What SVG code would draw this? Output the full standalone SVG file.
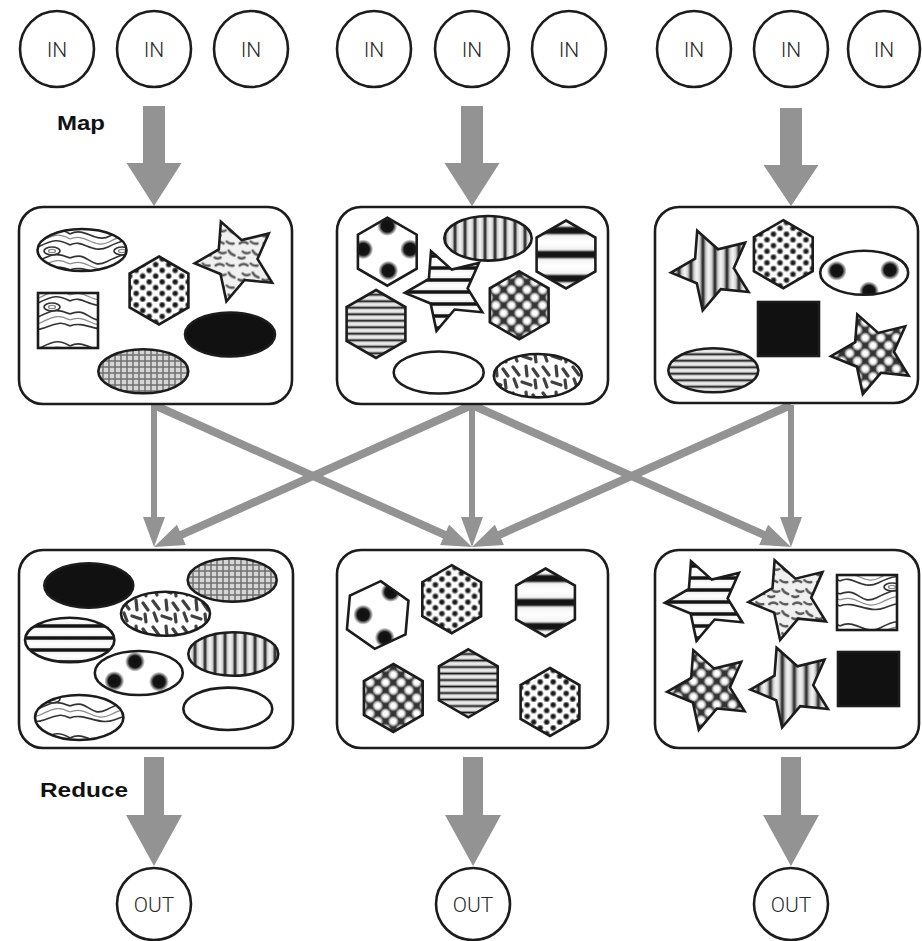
<svg xmlns="http://www.w3.org/2000/svg" xmlns:xlink="http://www.w3.org/1999/xlink" width="922" height="941" viewBox="0 0 922 941">
  <style>
    .ring { fill:#fff; stroke:#1c1c1c; stroke-width:2.6; }
    .box { fill:#fff; stroke:#1c1c1c; stroke-width:2.6; }
    .sh { stroke:#1c1c1c; stroke-width:2.6; stroke-linejoin:miter; }
    .ol { fill:none; stroke:#1c1c1c; stroke-width:2.6; }
    .big { fill:#939393; }
    .vline { fill:none; stroke:#939393; stroke-width:6; }
    .dline { fill:none; stroke:#939393; stroke-width:8; }
    .head { fill:#939393; }
    .io { font-family:Roboto, "Liberation Sans", sans-serif; font-weight:300; font-size:21px; fill:#2a2a2a; text-anchor:middle; }
    .stage { font-family:"Liberation Sans", Arial, sans-serif; font-weight:bold; font-size:20px; fill:#111; }
  </style>
  <defs>
    <!-- basic shapes, centred on 0,0 -->
    <path id="hex" d="M0,-34 L29.4,-17 L29.4,17 L0,34 L-29.4,17 L-29.4,-17 Z"/>
    <path id="star" d="M-41.9,2.9 L-17.8,-11.1 L-15.7,-38.9 L5.1,-20.4 L32.2,-27 L20.9,-1.5 L35.6,22.3 L7.9,19.5 L-10.2,40.8 L-16.1,13.5 Z"/>
    <clipPath id="cHex"><use xlink:href="#hex"/></clipPath>
    <clipPath id="cOval"><ellipse cx="0" cy="0" rx="44" ry="22"/></clipPath>

    <!-- soft blobs and dots -->
    <radialGradient id="gDot">
      <stop offset="0" stop-color="#111"/>
      <stop offset="0.45" stop-color="#222"/>
      <stop offset="1" stop-color="#333" stop-opacity="0"/>
    </radialGradient>
    <radialGradient id="gBlob">
      <stop offset="0" stop-color="#0e0e0e"/>
      <stop offset="0.6" stop-color="#151515"/>
      <stop offset="1" stop-color="#222" stop-opacity="0"/>
    </radialGradient>
    <radialGradient id="gCell">
      <stop offset="0.45" stop-color="#fff"/>
      <stop offset="0.8" stop-color="#9a9a9a"/>
      <stop offset="1" stop-color="#333"/>
    </radialGradient>
    <linearGradient id="gLineH" x1="0" y1="0" x2="0" y2="1">
      <stop offset="0" stop-color="#f4f4f4"/>
      <stop offset="0.25" stop-color="#cfcfcf"/>
      <stop offset="0.5" stop-color="#151515"/>
      <stop offset="0.75" stop-color="#cfcfcf"/>
      <stop offset="1" stop-color="#f4f4f4"/>
    </linearGradient>
    <linearGradient id="gLineV" x1="0" y1="0" x2="1" y2="0">
      <stop offset="0" stop-color="#f6f6f6"/>
      <stop offset="0.25" stop-color="#cfcfcf"/>
      <stop offset="0.5" stop-color="#151515"/>
      <stop offset="0.75" stop-color="#cfcfcf"/>
      <stop offset="1" stop-color="#f6f6f6"/>
    </linearGradient>
    <linearGradient id="gBand" x1="0" y1="0" x2="0" y2="1">
      <stop offset="0" stop-color="#fff"/>
      <stop offset="0.3" stop-color="#f2f2f2"/>
      <stop offset="0.4" stop-color="#141414"/>
      <stop offset="0.6" stop-color="#141414"/>
      <stop offset="0.7" stop-color="#f2f2f2"/>
      <stop offset="1" stop-color="#fff"/>
    </linearGradient>

    <!-- fills -->
    <pattern id="pDots" patternUnits="userSpaceOnUse" width="13" height="11.5">
      <rect width="13" height="11.5" fill="#fff"/>
      <circle cx="3.2" cy="2.9" r="3.8" fill="url(#gDot)"/>
      <circle cx="9.7" cy="8.6" r="3.8" fill="url(#gDot)"/>
    </pattern>
    <pattern id="pHThin" patternUnits="userSpaceOnUse" width="10" height="6.5">
      <rect width="10" height="6.5" fill="url(#gLineH)"/>
    </pattern>
    <pattern id="pHMed" patternUnits="userSpaceOnUse" width="10" height="12" y="-4">
      <rect width="10" height="12" fill="url(#gBand)"/>
    </pattern>
    <pattern id="pHBig" patternUnits="userSpaceOnUse" width="10" height="24" y="-12">
      <rect width="10" height="24" fill="url(#gBand)"/>
    </pattern>
    <pattern id="pV" patternUnits="userSpaceOnUse" width="10" height="10">
      <rect width="10" height="10" fill="url(#gLineV)"/>
    </pattern>
    <pattern id="pVWide" patternUnits="userSpaceOnUse" width="12" height="10" x="-4">
      <rect width="12" height="10" fill="url(#gLineV)"/>
    </pattern>
    <pattern id="pGrid" patternUnits="userSpaceOnUse" width="6" height="6">
      <rect width="6" height="6" fill="#d6d6d6"/>
      <rect width="6" height="2" fill="#6e6e6e" opacity="0.75"/>
      <rect width="2" height="6" fill="#6e6e6e" opacity="0.75"/>
    </pattern>
    <pattern id="pLattice" patternUnits="userSpaceOnUse" width="11" height="11" patternTransform="rotate(45)">
      <rect width="11" height="11" fill="url(#gCell)"/>
    </pattern>
    <pattern id="pConf" patternUnits="userSpaceOnUse" width="30" height="26">
      <rect width="30" height="26" fill="#fff"/>
      <g stroke="#1e1e1e" stroke-width="3.2" stroke-linecap="round" fill="none" opacity="0.85">
        <path d="M3,3 L9,11"/>
        <path d="M16,2 L17,12"/>
        <path d="M23,5 L28,12"/>
        <path d="M4,15 L7,23"/>
        <path d="M12,18 L21,21"/>
        <path d="M25,16 L26,24"/>
      </g>
    </pattern>
    <pattern id="pSwirl" patternUnits="userSpaceOnUse" width="24" height="22">
      <rect width="24" height="22" fill="#f0f0f0"/>
      <g stroke="#555" stroke-width="2.4" stroke-linecap="round" fill="none">
        <path d="M3,5 q4,-3 8,0"/>
        <path d="M14,3 q3,3 7,2"/>
        <path d="M6,13 q3,3 7,1"/>
        <path d="M16,12 q2,4 6,5"/>
        <path d="M2,19 q3,2 6,0"/>
      </g>
    </pattern>
    <pattern id="pWood" patternUnits="userSpaceOnUse" width="70" height="56">
      <rect width="70" height="56" fill="#fff"/>
      <g fill="none" stroke="#333" stroke-width="1.7">
        <path d="M0,10 C15,2 25,20 40,12 S60,4 70,10"/>
        <path d="M0,21 C12,14 22,31 38,23 S58,15 70,21"/>
        <path d="M0,34 C18,26 20,46 36,38 S56,28 70,34"/>
        <path d="M0,46 C14,40 28,54 44,48 S62,42 70,46"/>
        <ellipse cx="52" cy="27" rx="8" ry="4"/>
      </g>
      <g fill="none" stroke="#8a8a8a" stroke-width="1.3">
        <path d="M0,15 C15,8 24,26 39,18 S59,9 70,15"/>
        <path d="M0,40 C16,33 24,51 40,43 S60,35 70,40"/>
        <ellipse cx="52" cy="27" rx="3.5" ry="1.6"/>
      </g>
    </pattern>
  </defs>

  <!-- arrows: map, shuffle and reduce -->
  <g id="connectors">
    <polygon class="big" points="143,106 165,106 165,163 181.5,163 154,206 126.5,163 143,163"/>
    <polygon class="big" points="461,106 483,106 483,163 499.5,163 472,206 444.5,163 461,163"/>
    <polygon class="big" points="780,108 802,108 802,165 818.5,165 791,206 763.5,165 780,165"/>

    <line class="vline" x1="154" y1="405" x2="154" y2="519"/>
    <polygon class="head" points="154,547 143,517 165,517"/>
    <line class="vline" x1="472" y1="405" x2="472" y2="519"/>
    <polygon class="head" points="472,547 461,517 483,517"/>
    <line class="vline" x1="791" y1="405" x2="791" y2="519"/>
    <polygon class="head" points="791,547 780,517 802,517"/>

    <line class="dline" x1="154" y1="405" x2="448.2" y2="536.4"/>
    <polygon class="head" points="472,547 440.1,544.9 449.1,524.8"/>
    <line class="dline" x1="472" y1="405" x2="177.8" y2="536.4"/>
    <polygon class="head" points="154,547 185.9,544.9 176.9,524.8"/>
    <line class="dline" x1="472" y1="405" x2="767.2" y2="536.4"/>
    <polygon class="head" points="791,547 759.1,544.9 768.1,524.8"/>
    <line class="dline" x1="791" y1="405" x2="495.8" y2="536.4"/>
    <polygon class="head" points="472,547 503.9,544.9 494.9,524.8"/>

    <polygon class="big" points="144,757 164,757 164,815 182,815 154,866 126,815 144,815"/>
    <polygon class="big" points="463,757 483,757 483,815 501,815 473,866 445,815 463,815"/>
    <polygon class="big" points="781,757 801,757 801,815 819,815 791,866 763,815 781,815"/>
  </g>

  <!-- inputs -->
  <g id="in1"><ellipse class="ring" cx="57" cy="49" rx="37" ry="38"/><text class="io" x="57" y="56.5">IN</text></g>
  <g id="in2"><ellipse class="ring" cx="154" cy="49" rx="37" ry="38"/><text class="io" x="154" y="56.5">IN</text></g>
  <g id="in3"><ellipse class="ring" cx="251" cy="49" rx="37" ry="38"/><text class="io" x="251" y="56.5">IN</text></g>
  <g id="in4"><ellipse class="ring" cx="374" cy="49" rx="37" ry="38"/><text class="io" x="374" y="56.5">IN</text></g>
  <g id="in5"><ellipse class="ring" cx="472" cy="49" rx="37" ry="38"/><text class="io" x="472" y="56.5">IN</text></g>
  <g id="in6"><ellipse class="ring" cx="569" cy="49" rx="37" ry="38"/><text class="io" x="569" y="56.5">IN</text></g>
  <g id="in7"><ellipse class="ring" cx="694" cy="49" rx="37" ry="38"/><text class="io" x="694" y="56.5">IN</text></g>
  <g id="in8"><ellipse class="ring" cx="791" cy="49" rx="37" ry="38"/><text class="io" x="791" y="56.5">IN</text></g>
  <g id="in9"><ellipse class="ring" cx="884" cy="49" rx="36" ry="38"/><text class="io" x="884" y="56.5">IN</text></g>

  <!-- stage labels -->
  <g id="labels">
    <text class="stage" x="57" y="130" textLength="48" lengthAdjust="spacingAndGlyphs">Map</text>
    <text class="stage" x="40" y="797" textLength="88" lengthAdjust="spacingAndGlyphs">Reduce</text>
  </g>

  <!-- map outputs -->
  <g id="map1">
    <rect class="box" x="19" y="207" width="273" height="197" rx="24"/>
    <ellipse class="sh" cx="82" cy="250" rx="44.5" ry="21" fill="url(#pWood)"/>
    <use class="sh" xlink:href="#hex" transform="translate(159,290.5)" fill="url(#pDots)"/>
    <use class="sh" xlink:href="#star" transform="translate(236.6,260.5)" fill="url(#pSwirl)"/>
    <rect class="sh" x="38" y="293" width="60" height="55" fill="url(#pWood)"/>
    <ellipse class="sh" cx="230" cy="334.5" rx="45" ry="22" fill="#111"/>
    <ellipse class="sh" cx="143.3" cy="371.3" rx="45" ry="22" fill="url(#pGrid)"/>
  </g>

  <g id="map2">
    <rect class="box" x="337" y="207" width="271" height="197" rx="24"/>
    <g transform="translate(387.3,251.7)">
      <use xlink:href="#hex" fill="#fff"/>
      <g clip-path="url(#cHex)">
        <circle cx="0" cy="-25.7" r="10" fill="url(#gBlob)"/>
        <circle cx="22.7" cy="-2.4" r="10" fill="url(#gBlob)"/>
        <circle cx="1" cy="19" r="10" fill="url(#gBlob)"/>
        <circle cx="-24" cy="-2.4" r="10" fill="url(#gBlob)"/>
      </g>
      <use class="ol" xlink:href="#hex"/>
    </g>
    <ellipse class="sh" cx="488" cy="238.3" rx="43.7" ry="22.3" fill="url(#pV)"/>
    <use class="sh" xlink:href="#hex" transform="translate(566,254.5)" fill="url(#pHBig)"/>
    <use class="sh" xlink:href="#star" transform="translate(446.7,290)" fill="url(#pHMed)"/>
    <use class="sh" xlink:href="#hex" transform="translate(376,324)" fill="url(#pHThin)"/>
    <use class="sh" xlink:href="#hex" transform="translate(519.2,305.3)" fill="url(#pLattice)"/>
    <ellipse class="sh" cx="438.7" cy="372.5" rx="45" ry="21" fill="#fff"/>
    <ellipse class="sh" cx="537.8" cy="375.7" rx="44" ry="21.7" fill="url(#pConf)"/>
  </g>

  <g id="map3">
    <rect class="box" x="655" y="207" width="263" height="196" rx="24"/>
    <use class="sh" xlink:href="#star" transform="translate(712.9,269.7)" fill="url(#pVWide)"/>
    <use class="sh" xlink:href="#hex" transform="translate(783.3,254.2)" fill="url(#pDots)"/>
    <g transform="translate(864.2,272.8)">
      <ellipse cx="0" cy="0" rx="44" ry="22" fill="#fff"/>
      <g clip-path="url(#cOval)">
        <circle cx="-27.5" cy="-2" r="10" fill="url(#gBlob)"/>
        <circle cx="25.8" cy="-2.8" r="10" fill="url(#gBlob)"/>
        <circle cx="4.8" cy="18.5" r="10" fill="url(#gBlob)"/>
      </g>
      <ellipse class="ol" cx="0" cy="0" rx="44" ry="22"/>
    </g>
    <rect class="sh" x="758" y="302" width="61" height="54" fill="#111"/>
    <ellipse class="sh" cx="713.3" cy="370.3" rx="45" ry="22" fill="url(#pHThin)"/>
    <use class="sh" xlink:href="#star" transform="translate(873,353.3)" fill="url(#pLattice)"/>
  </g>

  <!-- reduce inputs -->
  <g id="red1">
    <rect class="box" x="19" y="550" width="274" height="198" rx="24"/>
    <ellipse class="sh" cx="88.8" cy="585.5" rx="44.5" ry="22.2" fill="#111"/>
    <ellipse class="sh" cx="232.2" cy="580" rx="44.5" ry="21.7" fill="url(#pGrid)"/>
    <ellipse class="sh" cx="165.5" cy="613.7" rx="44.5" ry="22" fill="url(#pConf)"/>
    <ellipse class="sh" cx="69.7" cy="640" rx="44.7" ry="22.3" fill="url(#pHMed)"/>
    <ellipse class="sh" cx="233.3" cy="654" rx="45" ry="21.7" fill="url(#pV)"/>
    <g transform="translate(138.8,673)">
      <ellipse cx="0" cy="0" rx="44" ry="22" fill="#fff"/>
      <g clip-path="url(#cOval)">
        <circle cx="-3.8" cy="-11.3" r="10" fill="url(#gBlob)"/>
        <circle cx="-24.5" cy="8" r="10" fill="url(#gBlob)"/>
        <circle cx="20.2" cy="8.7" r="10" fill="url(#gBlob)"/>
      </g>
      <ellipse class="ol" cx="0" cy="0" rx="44" ry="22"/>
    </g>
    <ellipse class="sh" cx="79.2" cy="717.5" rx="44.2" ry="22.5" fill="url(#pWood)"/>
    <ellipse class="sh" cx="227.8" cy="708.8" rx="44.5" ry="21.2" fill="#fff"/>
  </g>

  <g id="red2">
    <rect class="box" x="337" y="550" width="271" height="198" rx="24"/>
    <g transform="translate(377.7,615) rotate(5)">
      <use xlink:href="#hex" fill="#fff"/>
      <g clip-path="url(#cHex)">
        <circle cx="11" cy="-24" r="10" fill="url(#gBlob)"/>
        <circle cx="-14.5" cy="1" r="10" fill="url(#gBlob)"/>
        <circle cx="9" cy="22" r="10" fill="url(#gBlob)"/>
      </g>
      <use class="ol" xlink:href="#hex"/>
    </g>
    <use class="sh" xlink:href="#hex" transform="translate(451.7,599.2)" fill="url(#pDots)"/>
    <use class="sh" xlink:href="#hex" transform="translate(545.5,602.5)" fill="url(#pHBig)"/>
    <use class="sh" xlink:href="#hex" transform="translate(393.3,698)" fill="url(#pLattice)"/>
    <use class="sh" xlink:href="#hex" transform="translate(468.3,683.3)" fill="url(#pHThin)"/>
    <use class="sh" xlink:href="#hex" transform="translate(550,702)" fill="url(#pDots)"/>
  </g>

  <g id="red3">
    <rect class="box" x="655" y="550" width="264" height="198" rx="24"/>
    <use class="sh" xlink:href="#star" transform="translate(706.7,600)" fill="url(#pHMed)"/>
    <use class="sh" xlink:href="#star" transform="translate(790.3,599.1)" fill="url(#pSwirl)"/>
    <rect class="sh" x="837" y="575" width="60" height="55" fill="url(#pWood)"/>
    <use class="sh" xlink:href="#star" transform="translate(709,689)" fill="url(#pLattice)"/>
    <use class="sh" xlink:href="#star" transform="translate(792.3,686.7)" fill="url(#pVWide)"/>
    <rect class="sh" x="838" y="652" width="61" height="54" fill="#111"/>
  </g>

  <!-- outputs -->
  <g id="out1"><ellipse class="ring" cx="154" cy="904" rx="37" ry="36"/><text class="io" x="154" y="911.5">OUT</text></g>
  <g id="out2"><ellipse class="ring" cx="473" cy="904" rx="37" ry="36"/><text class="io" x="473" y="911.5">OUT</text></g>
  <g id="out3"><ellipse class="ring" cx="791" cy="904" rx="37" ry="36"/><text class="io" x="791" y="911.5">OUT</text></g>
</svg>
